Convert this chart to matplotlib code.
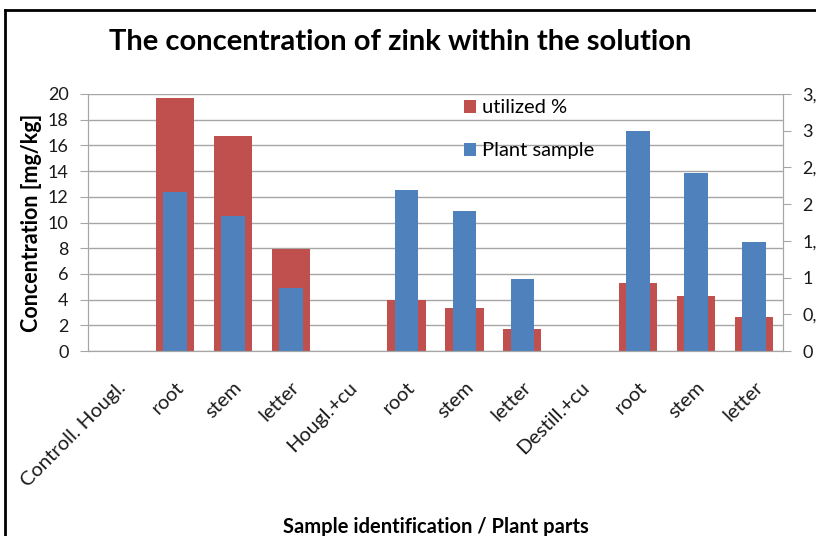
import numpy as np
import matplotlib.pyplot as plt
from matplotlib.lines import Line2D

plt.rcParams['font.family'] = ['Lato', 'DejaVu Sans']

categories = ["Controll. Hougl.", "root", "stem", "letter",
              "Hougl.+cu", "root", "stem", "letter",
              "Destill.+cu", "root", "stem", "letter"]
utilized = [0, 19.7, 16.7, 7.95, 0, 4.0, 3.35, 1.7, 0, 5.3, 4.3, 2.65]
plant_sample = [0, 2.17, 1.84, 0.86, 0, 2.19, 1.91, 0.98, 0, 2.99, 2.42, 1.49]
left_ticks = list(range(0, 21, 2))
right_ticks = [0, 0.5, 1, 1.5, 2, 2.5, 3, 3.5]
right_labels = ["0", "0,5", "1", "1,5", "2", "2,5", "3", "3,5"]

red = "#C0504D"
blue = "#4F81BD"
grid = "#A6A6A6"
txt = "#1a1a1a"

fig = plt.figure(figsize=(8.16, 5.36), dpi=100)
ax = fig.add_axes([88 / 816, 1 - 351 / 536, 695 / 816, 257 / 536])
ax2 = ax.twinx()

x = np.arange(len(categories))
b1 = ax.bar(x, utilized, width=0.66, color=red, zorder=2)
b2 = ax2.bar(x, plant_sample, width=0.41, color=blue, zorder=2)

ax.set_xlim(-0.5, len(categories) - 0.5)
ax.set_ylim(0, 20)
ax2.set_ylim(0, 3.5)
ax.set_yticks(left_ticks)
ax.set_yticklabels([str(t) for t in left_ticks], fontsize=13, color=txt)
ax2.set_yticks(right_ticks)
ax2.set_yticklabels(right_labels, fontsize=13, color=txt)
ax.yaxis.grid(True, color=grid, linewidth=1)
ax.set_axisbelow(True)

ax.set_xticks(x)
ax.set_xticklabels(categories, rotation=45, ha="right", va="top",
                   rotation_mode="anchor", fontsize=14.5, color=txt)
ax.tick_params(axis="x", length=0, pad=20)
ax.tick_params(axis="y", length=6, color=grid, pad=8)
ax2.tick_params(axis="y", length=6, color=grid, pad=8)

for a in (ax, ax2):
    a.spines["top"].set_visible(False)
    for s in ("left", "right", "bottom"):
        a.spines[s].set_color(grid)

ax.set_ylabel("Concentration [mg/kg]", fontsize=15.5, fontweight="bold", labelpad=4)
ax.set_xlabel("Sample identification / Plant parts", fontsize=14.5, fontweight="bold",
              labelpad=20)
fig.suptitle("The concentration of zink within the solution", x=0.49, y=0.945,
             fontsize=21, fontweight="bold")

ax2.legend([b1, b2], ["utilized %", "Plant sample"], loc="upper left",
           bbox_to_anchor=(0.515, 1.05), frameon=False, fontsize=14.5,
           handlelength=0.6, handleheight=0.6, handletextpad=0.3, labelspacing=1.3)

# outer black frame, cut off at the right and bottom edges
fig.add_artist(Line2D([5 / 816, 5 / 816], [0, 1 - 10 / 536], color="black", linewidth=2))
fig.add_artist(Line2D([5 / 816, 1], [1 - 10 / 536, 1 - 10 / 536], color="black", linewidth=2))

fig.savefig("out.png", dpi=100)
